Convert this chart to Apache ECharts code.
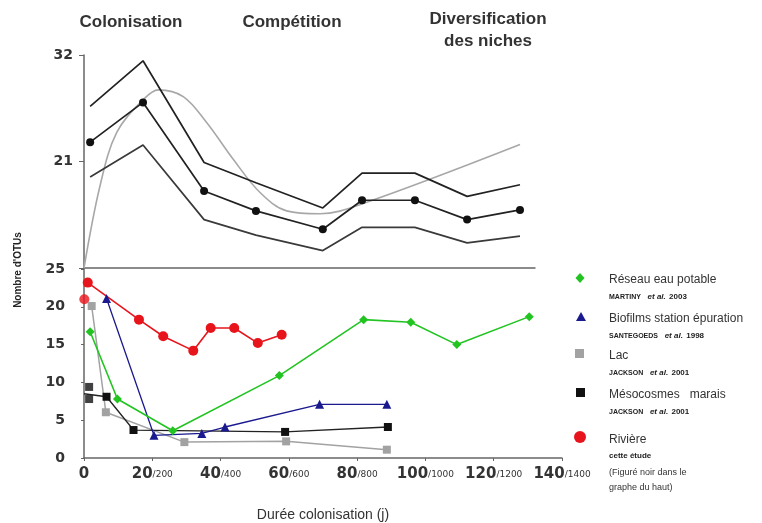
<!DOCTYPE html>
<html><head><meta charset="utf-8">
<script src="https://cdn.jsdelivr.net/npm/echarts@6/dist/echarts.min.js"></script>
<style>html,body{margin:0;padding:0;background:#fff}#c{width:762px;height:523px}</style>
</head><body><div id="c"></div>
<script>
// ---- Top panel data ----
const topX = [1.8, 17.3, 35.2, 50.4, 70.0, 81.5, 97.0, 112.3, 127.8];
const topMean = [23.0, 27.1, 17.95, 15.9, 14.0, 17.0, 17.0, 15.0, 16.0];
const topUpper = [26.7, 31.4, 20.9, 18.8, 16.2, 19.8, 19.8, 17.4, 18.6];
const topLower = [19.4, 22.7, 15.0, 13.4, 11.8, 14.2, 14.2, 12.6, 13.3];
const curveX = [0, 4.7, 9.6, 17.4, 21.8, 29.1, 36.0, 43.8, 51.6, 59.4, 69.2, 81.4, 127.8];
const curveY = [10, 18.5, 24.0, 27.4, 28.4, 27.7, 25.0, 21.2, 17.8, 15.9, 15.6, 16.6, 22.75];
const topTicks = [10, 21, 32];
const phaseTitles = ['Colonisation', 'Compétition', 'Diversification\ndes niches'];

// ---- Bottom panel data ----
const greenX = [1.8, 9.8, 26.0, 57.2, 81.9, 95.7, 109.2, 130.4];
const greenY = [16.7, 7.8, 3.6, 10.9, 18.3, 17.95, 15.0, 18.7];
const blueX = [6.6, 20.5, 34.5, 41.3, 69.0, 88.7];
const blueY = [21.1, 3.0, 3.25, 4.1, 7.1, 7.1];
const grayX = [2.25, 6.4, 29.4, 59.2, 88.7];
const grayY = [20.1, 6.05, 2.1, 2.2, 1.1];
const blackX = [0, 6.6, 14.5, 58.9, 89.0];
const blackY = [8.5, 8.1, 3.7, 3.45, 4.1];
const blackExtraX = [1.5, 1.5];
const blackExtraY = [9.4, 7.8];
const redX = [1.1, 16.1, 23.2, 32.0, 37.1, 44.0, 50.9, 57.9];
const redY = [23.2, 18.3, 16.1, 14.2, 17.2, 17.2, 15.2, 16.3];
const redExtraX = [0.1];
const redExtraY = [21.0];
const xTickLabels = ['0', '20/200', '40/400', '60/600', '80/800', '100/1000', '120/1200', '140/1400'];
const legendNames = ['Réseau eau potable', 'Biofilms station épuration', 'Lac', 'Mésocosmes   marais', 'Rivière'];
const legendRefs = [['MARTINY', '2003'], ['SANTEGOEDS', '1998'], ['JACKSON', '2001'], ['JACKSON', '2001']];

const zip = (xs, ys) => xs.map((x, i) => [x, ys[i]]);
const C = {green: '#22c422', blue: '#1a1a8e', gray: '#a2a2a2', black: '#111111', red: '#e8141c'};
const axisCol = '#666';
const numFont = 'DejaVu Sans';

const chart = echarts.init(document.getElementById('c'), null, {renderer: 'canvas'});

const legendGraphics = [];
const lx = 580, tx = 609;
const rows = [278, 317, 354, 393, 438];
// symbols
legendGraphics.push({type: 'polygon', shape: {points: [[lx, rows[0]-5], [lx+4.5, rows[0]], [lx, rows[0]+5], [lx-4.5, rows[0]]]}, style: {fill: C.green}});
legendGraphics.push({type: 'polygon', shape: {points: [[lx+1, rows[1]-5], [lx+6, rows[1]+4], [lx-4, rows[1]+4]]}, style: {fill: C.blue}});
legendGraphics.push({type: 'rect', shape: {x: lx-5, y: rows[2]-5, width: 9, height: 9}, style: {fill: C.gray}});
legendGraphics.push({type: 'rect', shape: {x: lx-4, y: rows[3]-5, width: 9, height: 9}, style: {fill: C.black}});
legendGraphics.push({type: 'circle', shape: {cx: lx, cy: rows[4]-1, r: 6}, style: {fill: C.red}});
legendNames.forEach((n, i) => {
  legendGraphics.push({type: 'text', x: tx, y: rows[i] + 2, style: {text: n, font: '12px "Liberation Sans"', fill: '#333', textVerticalAlign: 'middle'}});
});
legendRefs.forEach((r, i) => {
  legendGraphics.push({type: 'text', x: tx, y: rows[i] + 19, style: {
    text: '{a|' + r[0] + '}  {b|et al.} {c|' + r[1] + '}', textVerticalAlign: 'middle',
    rich: {
      a: {font: 'bold 7px "Liberation Sans"', fill: '#222'},
      b: {font: 'italic bold 8px "Liberation Sans"', fill: '#222'},
      c: {font: 'bold 8px "Liberation Sans"', fill: '#222'}
    }}});
});
legendGraphics.push({type: 'text', x: tx, y: rows[4] + 18, style: {text: 'cette étude', font: 'bold 8px "Liberation Sans"', fill: '#222', textVerticalAlign: 'middle'}});
legendGraphics.push({type: 'text', x: tx, y: rows[4] + 35, style: {text: '(Figuré noir dans le', font: '9px "Liberation Sans"', fill: '#333', textVerticalAlign: 'middle'}});
legendGraphics.push({type: 'text', x: tx, y: rows[4] + 50, style: {text: 'graphe du haut)', font: '9px "Liberation Sans"', fill: '#333', textVerticalAlign: 'middle'}});

const titleGraphics = [
  {type: 'text', x: 131, y: 22, style: {text: phaseTitles[0], font: 'bold 17px "Liberation Sans"', fill: '#333', textAlign: 'center', textVerticalAlign: 'middle'}},
  {type: 'text', x: 292, y: 22, style: {text: phaseTitles[1], font: 'bold 17px "Liberation Sans"', fill: '#333', textAlign: 'center', textVerticalAlign: 'middle'}},
  {type: 'text', x: 488, y: 30, style: {text: phaseTitles[2], font: 'bold 17px "Liberation Sans"', fill: '#333', textAlign: 'center', textVerticalAlign: 'middle', lineHeight: 22}},
  {type: 'text', x: 18, y: 270, rotation: Math.PI / 2, style: {text: "Nombre d'OTUs", font: 'bold 10px "Liberation Sans"', fill: '#222', textAlign: 'center', textVerticalAlign: 'middle'}}
];

const option = {
  animation: false,
  backgroundColor: '#fff',
  grid: [
    {left: 84, top: 55, width: 451, height: 213},
    {left: 84, top: 269, width: 478, height: 193}
  ],
  xAxis: [
    {gridIndex: 0, type: 'value', min: 0, max: 132.2, axisLine: {show: true, onZero: false, lineStyle: {color: axisCol, width: 1.5}},
     axisTick: {show: false}, axisLabel: {show: false}, splitLine: {show: false}},
    {gridIndex: 1, type: 'value', min: 0, max: 140, interval: 20,
     axisLine: {show: true, onZero: false, lineStyle: {color: axisCol, width: 1.5}},
     axisTick: {show: true, length: 3, lineStyle: {color: axisCol}},
     splitLine: {show: false},
     axisLabel: {margin: 9, formatter: function (v) {
        const s = xTickLabels[Math.round(v / 20)] || '';
        const p = s.split('/');
        return p.length > 1 ? '{a|' + p[0] + '}{b|/' + p[1] + '}' : '{a|' + p[0] + '}';
      },
      rich: {a: {fontFamily: numFont, fontWeight: 'bold', fontSize: 15, color: '#333'},
             b: {fontFamily: numFont, fontSize: 9, color: '#333'}}},
     name: 'Durée colonisation (j)', nameLocation: 'middle', nameGap: 50,
     nameTextStyle: {fontFamily: 'Liberation Sans', fontSize: 14, color: '#333'}}
  ],
  yAxis: [
    {gridIndex: 0, type: 'value', min: topTicks[0], max: topTicks[2], interval: 11,
     axisLine: {show: true, lineStyle: {color: axisCol, width: 1.5}},
     axisTick: {show: true, length: 5, lineStyle: {color: axisCol}},
     splitLine: {show: false},
     axisLabel: {margin: 11, fontFamily: numFont, fontWeight: 'bold', fontSize: 14, color: '#333',
       formatter: v => (v === topTicks[0] ? '' : String(v))}},
    {gridIndex: 1, type: 'value', min: 0, max: 25, interval: 5,
     axisLine: {show: true, lineStyle: {color: axisCol, width: 1.5}},
     axisTick: {show: true, length: 3, lineStyle: {color: axisCol}},
     splitLine: {show: false},
     axisLabel: {margin: 19, fontFamily: numFont, fontWeight: 'bold', fontSize: 14, color: '#333'}}
  ],
  series: [
    {type: 'line', xAxisIndex: 0, yAxisIndex: 0, data: zip(curveX, curveY), smooth: 0.35, showSymbol: false, symbol: 'none',
     lineStyle: {color: '#a8a8a8', width: 1.6}},
    {type: 'line', xAxisIndex: 0, yAxisIndex: 0, data: zip(topX, topUpper), symbol: 'none', lineStyle: {color: '#222', width: 1.7}},
    {type: 'line', xAxisIndex: 0, yAxisIndex: 0, data: zip(topX, topLower), symbol: 'none', lineStyle: {color: '#3a3a3a', width: 1.7}},
    {type: 'line', xAxisIndex: 0, yAxisIndex: 0, data: zip(topX, topMean), symbol: 'circle', symbolSize: 8,
     itemStyle: {color: '#111'}, lineStyle: {color: '#222', width: 1.7}},

    {type: 'line', xAxisIndex: 1, yAxisIndex: 1, data: zip(grayX, grayY), symbol: 'rect', symbolSize: 8,
     itemStyle: {color: C.gray}, lineStyle: {color: C.gray, width: 1.5}},
    {type: 'line', xAxisIndex: 1, yAxisIndex: 1, data: zip(blackX, blackY).map((d, i) => i === 0 ? {value: d, symbol: 'none'} : d), symbol: 'rect', symbolSize: 8,
     itemStyle: {color: C.black}, lineStyle: {color: '#222', width: 1.3}},
    {type: 'scatter', xAxisIndex: 1, yAxisIndex: 1, data: zip(blackExtraX, blackExtraY), symbol: 'rect', symbolSize: 8,
     itemStyle: {color: C.black}},
    {type: 'line', xAxisIndex: 1, yAxisIndex: 1, data: zip(blueX, blueY), symbol: 'triangle', symbolSize: 9,
     itemStyle: {color: C.blue}, lineStyle: {color: C.blue, width: 1.3}},
    {type: 'line', xAxisIndex: 1, yAxisIndex: 1, data: zip(greenX, greenY), symbol: 'diamond', symbolSize: 9,
     itemStyle: {color: C.green}, lineStyle: {color: C.green, width: 1.6}},
    {type: 'line', xAxisIndex: 1, yAxisIndex: 1, data: zip(redX, redY), symbol: 'circle', symbolSize: 10,
     itemStyle: {color: C.red}, lineStyle: {color: C.red, width: 1.6}},
    {type: 'scatter', xAxisIndex: 1, yAxisIndex: 1, data: zip(redExtraX, redExtraY), symbol: 'circle', symbolSize: 10,
     itemStyle: {color: C.red}}
  ],
  graphic: titleGraphics.concat(legendGraphics)
};
chart.setOption(option);
</script></body></html>
